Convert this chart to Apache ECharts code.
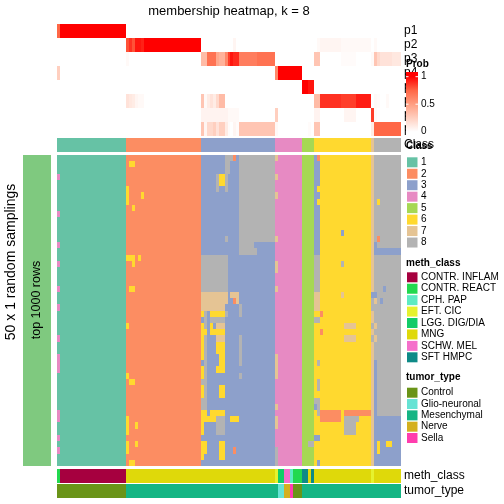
<!DOCTYPE html>
<html><head><meta charset="utf-8">
<script src="https://cdn.jsdelivr.net/npm/echarts@6/dist/echarts.min.js"></script>
<style>html,body{margin:0;padding:0;background:#fff}#c{width:504px;height:504px}</style>
</head><body><div id="c"></div>
<script>
// ---------------- DATA ----------------
const GROUP_SIZES = [23, 25, 25, 9, 4, 19, 1, 9];
const GROUP_FILL = ['1', '2', '3', '4', '5', '6', '7', '8'];
const probLabels = ['p1', 'p2', 'p3', 'p4', 'p5', 'p6', 'p7', 'p8'];
const classIds = [1, 2, 3, 4, 5, 6, 7, 8];
const classColors = ['#66C2A5', '#FC8D62', '#8DA0CB', '#E78AC3', '#A6D854', '#FFD92F', '#E5C494', '#B3B3B3'];
const probColors = ['#FFFFFF', '#FFCFBF', '#FF9E81', '#FF6746', '#FF0000'];

const methLevels = ['CONTR. INFLAM', 'CONTR. REACT', 'CPH. PAP', 'EFT. CIC', 'LGG. DIG/DIA', 'MNG', 'SCHW. MEL', 'SFT HMPC'];
const methColors = ['#A6003F', '#22D94F', '#5DEBC2', '#E6F22E', '#12CC68', '#DFD90A', '#F56FCB', '#0E8A87'];
const tumorLevels = ['Control', 'Glio-neuronal', 'Mesenchymal', 'Nerve', 'Sella'];
const tumorColors = ['#6A9418', '#66E3D4', '#15B584', '#D4B01F', '#FF3DAE'];

// sample class of each column (top annotation "Class")
const sampleClass = "11111111111111111111111 2222222222222222222222222 3333333333333333333333333 444444444 5555 6666666666666666666 7 888888888";
// meth_class index per column (into methLevels)
const methClass = "10000000000000000000000 5555555555555555555555555 5555555555555555555555555 344662111 7757 5555555555555555555 3 555555555";
// tumor_type index per column (into tumorLevels)
const tumorType = "00000000000000000000000 2222222222222222222222222 2222222222222222222222222 211334000 2222 2222222222222222222 2 222222222";

// membership probabilities, per class group of columns
const p1 = [[0.75,1,1,1,1,1,1,1,1,1,1,1,1,1,1,1,1,1,1,1,1,1,1],[],[],[],[],[],[0],[]];
const p2 = [[],[0.8,0.88,0.8,0.95,0.95,0.92,1,1,1,1,1,1,1,1,1,1,1,1,1,1,1,1,1,1,1],
  [0,0,0,0,0,0,0,0,0,0,0,0.05,0,0,0,0,0,0,0,0,0,0,0,0,0],[],[],
  [0,0.03,0.05,0.05,0.05,0.05,0.05,0.05,0.05,0.03,0.03,0.03,0.03,0.03,0.03,0.03,0.03,0.03,0.03],[0],[0.03,0,0,0,0,0,0,0,0]];
const p3 = [[],[0.03],
  [0.35,0.35,0.7,0.7,0.7,0.45,0.4,0.4,0.6,0.85,0.95,0.9,0.9,0.65,0.65,0.65,0.65,0.65,0.65,0.7,0.7,0.7,0.7,0.7,0.7],[],[],
  [0.3,0.3,0,0,0,0,0,0,0,0.02,0.02,0.02,0.02,0.02,0,0,0,0,0],[0.03],[0.3,0.2,0.15,0.15,0.15,0.15,0.12,0.12,0.12]];
const p4 = [[0.25],[],[],[0.6,1,1,1,1,1,1,1,1],[],[],[0],[]];
const p5 = [[],[],[],[],[1,1,0.95,0.95],[],[0],[]];
const p6 = [[],[0.15,0.12,0.1,0.05,0.03,0.03],[0.3,0.03,0.1,0.15,0.1,0.2,0.35,0.35],[],[],
  [0.35,0.35,0.88,0.88,0.88,0.88,0.88,0.88,0.88,0.85,0.85,0.85,0.85,0.85,0.93,0.93,0.93,0.93,0.93],[0],[0.03,0.02,0,0,0.03,0,0,0,0]];
const p7 = [[],[],[0.06,0.06,0.06,0.06,0.06,0.06,0.06,0.06,0.06,0.03,0.03,0.03,0.03],[0.25],[],
  [0.06,0.06,0,0,0,0,0,0,0,0,0.05,0.05,0.05,0.05,0,0,0,0,0],[0.85],[0.02]];
const p8 = [[],[],[0.3,0.05,0.2,0.2,0.25,0.15,0.25,0.25,0.1,0.02,0,0.05,0.02,0.3,0.3,0.3,0.3,0.3,0.3,0.3,0.3,0.3,0.3,0.3,0.3],
  [0.03],[0,0,0.02,0],[0.3,0.3],[0.1],[0.75,0.75,0.75,0.75,0.75,0.75,0.75,0.75,0.75]];

// 50 random samplings x 115 samples, class label of each (groups separated by spaces)
const membership = [
"11111111111111111111111 2222222222222222222222222 3333333388823888888888888 744444444 5555 3266666666666666666 7 888888888",
"11111111111111111111111 2662222222222222222222222 3333333388333888888888888 444444444 5555 3366666666666666666 7 888888888",
"11111111111111111111111 2222222222222222222222222 3333333388333888888888888 444444444 5555 3366666666666666666 7 888888888",
"41111111111111111111111 2222222222222222222222222 3333386683333888888888888 744444444 5555 3366666666666666666 7 888888888",
"11111111111111111111111 2222222222222222222222222 3333386683333888888888888 444444444 5555 3366666666666666666 7 888888888",
"11111111111111111111111 6222222222222222222222222 3333383383333888888888888 444444444 5555 3666666666666666666 7 888888888",
"11111111111111111111111 6222262222222222222222222 3333333333333888888888888 744444444 5555 3366666666666666666 7 888888888",
"11111111111111111111111 6222222222222222222222222 3333333333333888888888888 444444444 5555 3666666666666666666 7 868888888",
"11111111111111111111111 2262222222222222222222222 3333333333333888888888888 444444444 5555 3366666666666666666 7 888888888",
"41111111111111111111111 2222222222222222222222222 3333333333333888888888888 444444444 5555 3366666666666666666 7 888888888",
"11111111111111111111111 2222222222222222222222222 3333333333333888888888888 444444444 5555 3366666666666666666 7 888888888",
"11111111111111111111111 2222222222222222222222222 3333333333333888888888888 444444444 5555 3366666666666666666 7 888888888",
"11111111111111111111111 2222222222222222222222222 3333333333333888888888888 444444444 5555 3366666663666666666 7 888888888",
"11111111111111111111111 2222222222222222222222222 3333333383333888888888888 744444444 5555 3366666666666666666 7 828888888",
"41111111111111111111111 2222222222222222222222222 3333333333333888883333333 444444444 5555 3366666666666666666 7 388888888",
"11111111111111111111111 2222222222222222222222222 3333333333333888888333333 444444444 5555 3366666666666666666 7 333333333",
"11111111111111111111111 6662622222222222222222222 8888888883333333333333333 444444444 5555 8866666666666666666 7 888888888",
"41111111111111111111111 2262222222222222222222222 8888888883333333333333333 744444444 5555 8866666668666666666 7 888888888",
"11111111111111111111111 2222222222222222222222222 8888888883333333333333333 744444444 5555 8866666666666666666 7 888888888",
"11111111111111111111111 2222222222222222222222222 8888888883333333333333333 444444444 5555 8866666666666666666 7 888888888",
"11111111111111111111111 2222222222222222222222222 8888888883333333333333333 444444444 5555 8866666666666666666 7 888888888",
"41111111111111111111111 2662222222222222222222222 8888888883333333333333333 744444444 5555 8866666666666666666 7 888388888",
"11111111111111111111111 2222222222222222222222222 7777777773777333333333333 444444444 5555 7766666667666666666 3 388888888",
"11111111111111111111111 2222222222222222222222222 7777777773327333333333333 444444444 5555 7766666666666666666 8 783888888",
"41111111111111111111111 2222222222222222222222222 7777777733333833333333333 444444444 5555 7766666666666666666 8 888888888",
"11111111111111111111111 2222222222222222222222222 6836666683333833333333333 444444444 5555 6626666666666666666 7 888888888",
"11111111111111111111111 2222222222222222222222222 3838888833333333333333333 444444444 5555 8866666666666666666 7 888888888",
"11111111111111111111111 6222222222222222222222222 6836377733333333333333333 444444444 5555 6666666666777766666 8 788888888",
"11111111111111111111111 2222222222222222222222222 6636666633333333333333333 444444444 5555 6626666666666666666 7 888888888",
"41111111111111111111111 2222222222222222222222222 6833377733333833333333333 444444444 5555 6666666666777766666 8 788888888",
"11111111111111111111111 2222222222222222222222222 6833366633333833333333333 444444444 5555 6666666666666666666 7 888888888",
"11111111111111111111111 2222222222222222222222222 6833366633333833333333333 444444444 5555 6666666666666666666 7 888888888",
"41111111111111111111111 2222222222222222222222222 6833336633333833333333333 744444444 5555 6666666666666666666 7 888888888",
"41111111111111111111111 2222222222222222222222222 3833336633333833333333333 744444444 5555 6866666666666666666 7 388888888",
"41111111111111111111111 2222222222222222222222222 6833366633333333333333333 744444444 5555 6666666666666666666 7 388888888",
"11111111111111111111111 6222222222222222222222222 6833333333333833333333333 744444444 5555 6666666666666666666 7 388888888",
"11111111111111111111111 2662222222222222222222222 8833333333333333333333333 444444444 5555 6866666666666666666 7 388888888",
"11111111111111111111111 2222222222222222222222222 6833336633333333333333333 444444444 5555 6866666666666666666 7 388888888",
"11111111111111111111111 2222222222222222222222222 6833336633333333333333333 444444444 5555 6666666666666666666 7 388888888",
"11111111111111111111111 2222222222222222222222222 8833333333333333333333333 444444444 5555 8866666666666666666 7 388888888",
"11111111111111111111111 2222222222222222222222222 8833333333333333333333333 744444444 5555 3866666666666666666 7 388888888",
"41111111111111111111111 2222222222222222222222222 6636666633333333333333333 444444444 5555 6822222226222222222 7 388888888",
"41111111111111111111111 6222222222222222222222222 6666688833666333333333333 744444444 5555 6622222226888886666 7 333333333",
"11111111111111111111111 6226222222222222222222222 6333388833333333333333333 744444444 5555 6666666666888866666 7 333333333",
"11111111111111111111111 6222222222222222222222222 6333388833333333333333333 444444444 5555 6666666666888866666 7 333333333",
"41111111111111111111111 2222222222222222222222222 3333333333333333333333333 444444444 5555 3366666666666666666 7 333333333",
"11111111111111111111111 6226222222222222222222222 6633336633333333333333333 444444444 5588 6666666666666666666 7 363366333",
"41111111111111111111111 6222222222222222222222222 6633336633323333333333333 844444444 5555 6666666666666666666 7 363333333",
"11111111111111111111111 2222222222222222222222222 6333336633333333333333333 844444444 5555 6666666666666666666 7 333333333",
"11111111111111111111111 2662222222222222222222222 3333333333333333333333333 844444444 5555 6366666666666666666 7 333333333"
];

// ---------------- PARSING ----------------
function parseGroups(str, fills) {
  const parts = str.trim().split(/\s+/);
  const out = [];
  GROUP_SIZES.forEach((n, i) => {
    const g = parts[i] || '';
    for (let k = 0; k < n; k++) out.push(k < g.length ? g[k] : fills[i]);
  });
  return out;
}
function flatProb(groups) {
  const out = [];
  GROUP_SIZES.forEach((n, i) => {
    const g = groups[i] || [];
    for (let k = 0; k < n; k++) out.push(k < g.length ? g[k] : 0);
  });
  return out;
}
const NC = GROUP_SIZES.reduce((a, b) => a + b, 0);
const colIdx = Array.from({length: NC}, (_, i) => i);
const probRows = [p1, p2, p3, p4, p5, p6, p7, p8].map(flatProb);
const classRow = parseGroups(sampleClass, GROUP_FILL).map(Number);
const methRow = parseGroups(methClass, ['0','5','5','5','5','5','5','5']).map(Number);
const tumorRow = parseGroups(tumorType, ['0','2','2','2','2','2','2','2']).map(Number);
const memRows = membership.map(s => parseGroups(s, GROUP_FILL).map(Number));

function block() { return {data: [], colors: []}; }
const probB = block(), classB = block(), memB = block(), methB = block(), tumorB = block(), leftB = block();
function add(b, x, y, v, color) { b.data.push([x, y, v]); b.colors.push(color); }
probRows.forEach((row, r) => row.forEach((v, c) => add(probB, c, r, v, echarts.color.lerp(v, probColors))));
classRow.forEach((v, c) => add(classB, c, 0, v, classColors[v - 1]));
memRows.forEach((row, r) => row.forEach((v, c) => add(memB, c, r, v, classColors[v - 1])));
methRow.forEach((v, c) => add(methB, c, 0, v, methColors[v]));
tumorRow.forEach((v, c) => add(tumorB, c, 0, v, tumorColors[v]));
add(leftB, 0, 0, 1, '#7FC97F');

// ---------------- CHART ----------------
const FONT = 'Liberation Sans, Arial, Helvetica, sans-serif';
const L = 57, W = 344;
const chart = echarts.init(document.getElementById('c'), null, {renderer: 'canvas', width: 504, height: 504});

const grids = [
  {left: L, top: 24, width: W, height: 112},
  {left: L, top: 138, width: W, height: 14},
  {left: L, top: 155, width: W, height: 311},
  {left: L, top: 469, width: W, height: 14},
  {left: L, top: 484, width: W, height: 14},
  {left: 23, top: 155, width: 28, height: 311}
];
const xAxes = grids.map((g, i) => ({type: 'category', gridIndex: i, data: i === 5 ? ['a'] : colIdx, show: false, boundaryGap: true}));
const rightLabel = {show: true, interval: 0, fontSize: 12, color: '#000', margin: 3, fontFamily: FONT};
const yAxes = [
  {type: 'category', gridIndex: 0, data: probLabels, inverse: true, position: 'right', axisLine: {show: false}, axisTick: {show: false}, axisLabel: rightLabel},
  {type: 'category', gridIndex: 1, data: ['Class'], position: 'right', axisLine: {show: false}, axisTick: {show: false}, axisLabel: rightLabel},
  {type: 'category', gridIndex: 2, data: memRows.map((_, i) => i), inverse: true, show: false},
  {type: 'category', gridIndex: 3, data: ['meth_class'], position: 'right', axisLine: {show: false}, axisTick: {show: false}, axisLabel: rightLabel},
  {type: 'category', gridIndex: 4, data: ['tumor_type'], position: 'right', axisLine: {show: false}, axisTick: {show: false}, axisLabel: rightLabel},
  {type: 'category', gridIndex: 5, data: ['b'], show: false}
];
// cell series: each cell is placed by the axes' band positions, edges snapped to whole pixels
function cells(i, b) {
  return {
    type: 'custom', xAxisIndex: i, yAxisIndex: i, data: b.data, animation: false, silent: true,
    encode: {x: 0, y: 1},
    renderItem: function (params, api) {
      const c = api.coord([api.value(0), api.value(1)]);
      const s = api.size([1, 1]);
      const x0 = Math.round(c[0] - s[0] / 2), x1 = Math.round(c[0] + s[0] / 2);
      const y0 = Math.round(c[1] - s[1] / 2), y1 = Math.round(c[1] + s[1] / 2);
      return {type: 'rect', shape: {x: x0, y: y0, width: x1 - x0, height: y1 - y0},
              style: {fill: b.colors[params.dataIndex]}};
    }
  };
}

// legends and titles as graphic elements
const graphics = [];
function txt(x, y, s, opt) {
  graphics.push(Object.assign({type: 'text', x: x, y: y, z: 100,
    style: Object.assign({text: s, fill: '#000', font: '10px ' + FONT, textAlign: 'left', textVerticalAlign: 'middle'}, opt || {})}));
}
txt(229, 11, 'membership heatmap, k = 8', {font: '13px ' + FONT, textAlign: 'center'});
graphics.push({type: 'text', x: 11, y: 262, rotation: Math.PI / 2, z: 100,
  style: {text: '50 x 1 random samplings', fill: '#000', font: '14px ' + FONT, textAlign: 'center', textVerticalAlign: 'middle'}});
graphics.push({type: 'text', x: 37, y: 300, rotation: Math.PI / 2, z: 100,
  style: {text: 'top 1000 rows', fill: '#000', font: '12.5px ' + FONT, textAlign: 'center', textVerticalAlign: 'middle'}});

// Prob legend
txt(406, 64, 'Prob', {font: 'bold 10px ' + FONT});
const barTop = 72, barH = 64;
const y1 = 76.7, y0 = 131.7;
const off = y => (y - barTop) / barH;
graphics.push({type: 'rect', z: 100, shape: {x: 406, y: barTop, width: 12, height: barH},
  style: {fill: new echarts.graphic.LinearGradient(0, 0, 0, 1, [
    {offset: 0, color: probColors[4]}, {offset: off(y1), color: probColors[4]},
    {offset: off(y1 + (y0 - y1) * 0.25), color: probColors[3]},
    {offset: off(y1 + (y0 - y1) * 0.5), color: probColors[2]},
    {offset: off(y1 + (y0 - y1) * 0.75), color: probColors[1]},
    {offset: off(y0), color: probColors[0]}, {offset: 1, color: probColors[0]}])}});
[[y1, '1'], [(y1 + y0) / 2, '0.5'], [y0, '0']].forEach(([y, s]) => {
  graphics.push({type: 'line', z: 101, shape: {x1: 406, y1: y, x2: 408.5, y2: y}, style: {stroke: '#fff', lineWidth: 1}});
  graphics.push({type: 'line', z: 101, shape: {x1: 415.5, y1: y, x2: 418, y2: y}, style: {stroke: '#fff', lineWidth: 1}});
  txt(421, y, s);
});

function discreteLegend(title, titleY, firstY, step, labels, colors) {
  txt(406, titleY, title, {font: 'bold 10px ' + FONT});
  labels.forEach((lab, i) => {
    const cy = firstY + step * i;
    graphics.push({type: 'rect', z: 100, shape: {x: 407, y: cy - 5, width: 10.5, height: 10}, style: {fill: colors[i]}});
    txt(421, cy, lab);
  });
}
discreteLegend('Class', 146.5, 162.3, 11.46, classIds.map(String), classColors);
discreteLegend('meth_class', 263.5, 277.3, 11.43, methLevels, methColors);
discreteLegend('tumor_type', 377.3, 392.7, 11.33, tumorLevels, tumorColors);

chart.setOption({
  animation: false,
  backgroundColor: '#ffffff',
  grid: grids,
  xAxis: xAxes,
  yAxis: yAxes,
  series: [cells(0, probB), cells(1, classB), cells(2, memB), cells(3, methB), cells(4, tumorB), cells(5, leftB)],
  graphic: graphics
});
</script>
</body></html>
